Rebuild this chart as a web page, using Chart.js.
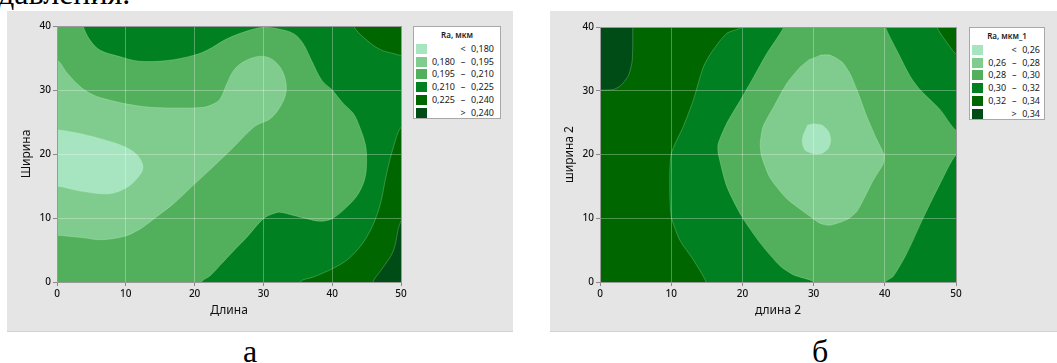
<!DOCTYPE html>
<html>
<head>
<meta charset="utf-8">
<script src="https://cdn.jsdelivr.net/npm/chart.js@4.4.1/dist/chart.umd.min.js"></script>
<style>
  body { margin: 0; width: 1057px; height: 363px; background: #fff; position: relative; overflow: hidden; font-family: "Noto Sans", sans-serif; }
  .serif { position: absolute; font-family: "Liberation Serif", "Times New Roman", serif; font-size: 32px; line-height: 32px; color: #000; white-space: nowrap; }
  .panel { position: absolute; top: 11px; height: 320px; background: #e5e5e5; border-bottom: 1px solid #d2d2d2; }
  .panel canvas { position: absolute; left: 0; top: 0; }
  .legend { position: absolute; background: #fff; border: 1px solid #a8a8a8; box-sizing: border-box; color: #1a1a1a; }
  .legend .title { position: absolute; left: 0; right: 0; top: 3px; text-align: center; font-size: 8px; line-height: 10px; font-weight: 600; }
  .legend .row { position: absolute; left: 2px; height: 10px; }
  .legend .sw { position: absolute; left: 0; top: 0; width: 11px; height: 10px; }
  .legend .txt { position: absolute; right: 0; top: 0; font-size: 9px; line-height: 10px; white-space: pre; }
  .legend .mid { display: inline-block; width: 16px; text-align: center; }
</style>
</head>
<body>
<div class="serif" style="left:-2px; top:-23px;">давления.</div>

<div class="panel" id="panelA" style="left:7px; width:506px;">
  <canvas id="chartA" width="406" height="320"></canvas>
  <div class="legend" id="legendA" style="left:406px; top:15px; width:88px; height:93px;"></div>
</div>

<div class="panel" id="panelB" style="left:550px; width:507px;">
  <canvas id="chartB" width="419" height="320"></canvas>
  <div class="legend" id="legendB" style="left:419px; top:16px; width:76px; height:93px;"></div>
</div>

<div class="serif" style="left:243px; top:335px;">а</div>
<div class="serif" style="left:812px; top:335px;">б</div>

<script>
// contour level breaks, as in the legends
const breaksA = ['0,180', '0,195', '0,210', '0,225', '0,240'];
const breaksB = ['0,26', '0,28', '0,30', '0,32', '0,34'];
const legendTitleA = 'Ra, мкм';
const legendTitleB = 'Ra, мкм_1';
const xTitleA = 'Длина';
const yTitleA = 'Ширина';
const xTitleB = 'длина 2';
const yTitleB = 'ширина 2';
const xMax = 50;
const yMax = 40;

// region outlines [x, y]; points past the edges get clipped
const frame = [[-2, -2], [52, -2], [52, 42], [-2, 42]];

const darkA = [[3.5, 42], [3.8, 40], [4.8, 37.8], [6.3, 36.2], [9.2, 35.2], [11.9, 34.5], [16, 34.6], [19.8, 35.4],
  [21.8, 36.2], [24.7, 38], [27.6, 39.2], [30, 39.8], [31.9, 39.6], [34.4, 38.8], [35.8, 37.2], [37, 34.6],
  [38.5, 31.5], [40, 30], [41.6, 27.9], [43.1, 26.3], [44, 24.2], [44.8, 21.6], [45, 19.5], [44.8, 16.4],
  [43.8, 13.8], [42.1, 11.7], [40, 9.9], [38.2, 9.5], [36.3, 9.9], [34.4, 10.4], [32.4, 10.9], [31.5, 10.7],
  [30, 9.9], [27.6, 7], [25.7, 4.9], [23.7, 2.6], [22.3, 1], [21, 0], [20.5, -2], [52, -2], [52, 42]];
const darkerTopA = [[43, 42], [43.1, 40], [45, 37.8], [47, 36.3], [48.9, 35.7], [50, 35.4], [52, 35.3], [52, 42]];
const darkerBottomA = [[35, -2], [35.3, 0], [37.3, 0.8], [39.7, 1.9], [42.1, 3.4], [43.8, 5.2], [45, 7], [46, 9.1],
  [47, 12.2], [47.9, 16.9], [48.9, 21.1], [50, 24.2], [52, 26], [52, -2]];
const darkestA = [[45.5, -2], [45.9, 0], [47.4, 2.3], [48.9, 4.9], [50, 9.6], [52, 12], [52, -2]];
const lightA = [[-2, 35], [0, 34.7], [1.5, 32.6], [3.4, 30.5], [5.3, 29.2], [7.7, 28.4], [10.2, 27.8], [13.6, 27.3],
  [17.9, 27.2], [21.3, 27.3], [22.7, 27.8], [23.7, 28.6], [24.7, 31], [25.7, 33.1], [27.1, 34.4], [29, 35.2],
  [30.3, 35.2], [31.5, 34.6], [32.7, 33.1], [33.3, 31], [33.2, 29.2], [32.4, 27.3], [31, 25.5], [29, 24.5],
  [27.6, 23.2], [25.7, 21.1], [22.7, 18], [19.8, 15.1], [16.9, 12.2], [14.5, 10.2], [12.1, 8.3], [9.7, 7.1],
  [6.3, 6.6], [3.9, 6.9], [0, 7.3], [-2, 7.3]];
const lightestA = [[-2, 24], [0, 23.8], [2.9, 23.3], [6.3, 22.4], [9.7, 21.2], [11.6, 19.9], [12.4, 18.5], [12.4, 17.4],
  [11.4, 15.9], [10.2, 14.8], [8.2, 13.9], [6.3, 13.8], [3.4, 14.2], [0, 15], [-2, 15]];

const darkestB = [[-2, 30.1], [0, 30.1], [1.9, 30.2], [3, 30.9], [4, 32.4], [4.5, 34.5], [4.6, 36.9], [4.6, 40],
  [4.6, 42], [-2, 42]];
const midB = [[19.9, 42], [19.9, 40], [17.8, 39], [15.7, 36.1], [14.5, 33.7], [13.1, 28.5], [11.7, 24.4], [10, 20.1],
  [9.8, 15], [10, 10.3], [11.2, 6.6], [13.1, 3.5], [14.9, 0], [15, -2], [52, -2], [52, 35.7], [50, 35.8],
  [48.7, 37.6], [47.3, 40], [47.2, 42]];
const mediumB = [[25.8, 42], [25.8, 40], [23.4, 35.8], [21.6, 32.2], [19.7, 28.5], [17.8, 24.9], [16.6, 21.7],
  [16.6, 20.2], [17.8, 15], [19.9, 10.3], [22.5, 6.1], [25.3, 2.5], [27.2, 1.1], [30, 0], [30, -2], [40.1, -2],
  [40.1, 0], [41.2, 0.9], [43.1, 4.5], [45.5, 10.3], [47.8, 15.5], [50, 19.9], [52, 19.9], [52, 23.8], [50, 23.8],
  [47.8, 27], [45, 30.1], [43.6, 32.2], [41.7, 36.3], [40.1, 40], [40.1, 42]];
const lightB = [[30.9, 35.6], [32.3, 35.6], [34, 34.5], [35.1, 32.7], [36.1, 30.1], [37.5, 25.9], [38.9, 22.3],
  [39.9, 19.9], [39.8, 18.6], [38.4, 16], [36.1, 11.1], [34.7, 9.8], [32.3, 8.9], [30.9, 9.2], [29.5, 10.3],
  [26.2, 13.1], [23.9, 16.3], [22.7, 19.7], [22.5, 21.7], [22.9, 24.4], [24.4, 27.5], [26.2, 31.1], [28.1, 33.7],
  [29.5, 35]];
const lightestB = [[29.1, 24.6], [30, 24.8], [31.2, 24.6], [32.1, 23.6], [32.4, 22.3], [32.1, 21], [31.2, 20.2],
  [30, 20.1], [28.8, 20.7], [28.4, 22], [28.6, 23.3]];

// Minitab-like greens, lightest to darkest
const greens = ['#a6e5bf', '#80cc8f', '#52af5b', '#008020', '#006600', '#004c17'];

function regionSet(points, color, tension, order) {
  return {
    data: points.map(p => ({ x: p[0], y: p[1] })),
    showLine: true,
    fill: 'shape',
    backgroundColor: color,
    borderColor: 'rgba(210,255,210,0.35)',
    borderWidth: 0.7,
    pointRadius: 0,
    pointHoverRadius: 0,
    tension: tension,
    order: order
  };
}

function axisOpts(title, max, isX, titlePad, fitSize) {
  return {
    type: 'linear',
    min: 0,
    max: max,
    afterFit: s => { if (isX) s.height = fitSize; else s.width = fitSize; },
    ticks: { stepSize: 10, color: '#111', font: { family: 'Noto Sans', size: 10, weight: '500' }, padding: 2, maxRotation: 0 },
    grid: {
      z: 1,
      color: ctx => (ctx.tick.value === 0 || ctx.tick.value === max) ? '#9a9a9a' : 'rgba(255,255,255,0.3)',
      tickColor: '#8a8a8a',
      tickLength: 4
    },
    border: { z: 1, color: '#9a9a9a' },
    title: { display: true, text: title, color: '#111', font: { family: 'Noto Sans', size: 12 }, padding: titlePad }
  };
}

function makeChart(id, regions, tension, xTitle, yTitle, pad) {
  // regions come bottom layer first; lower order is drawn on top
  const datasets = regions.map((r, i) => regionSet(r[0], r[1], tension, regions.length - i));
  return new Chart(document.getElementById(id), {
    type: 'scatter',
    data: { datasets: datasets },
    options: {
      responsive: false,
      animation: false,
      events: [],
      layout: { padding: pad },
      elements: { line: { capBezierPoints: false } },
      plugins: { legend: { display: false }, tooltip: { enabled: false } },
      scales: {
        x: axisOpts(xTitle, xMax, true, { top: 0, bottom: 13 }, 49),
        y: axisOpts(yTitle, yMax, false, { top: 12, bottom: 0 }, 50)
      }
    }
  });
}

function buildLegend(el, title, breaks, rightPad) {
  let html = '<div class="title">' + title + '</div>';
  const n = breaks.length + 1;
  for (let i = 0; i < n; i++) {
    let txt;
    if (i === 0) txt = '<span class="mid">&lt;</span>' + breaks[0];
    else if (i === n - 1) txt = '<span class="mid">&gt;</span>' + breaks[n - 2];
    else txt = breaks[i - 1] + '<span class="mid">–</span>' + breaks[i];
    const top = 17 + i * 12.7;
    html += '<div class="row" style="top:' + top + 'px; right:' + rightPad + 'px;">' +
      '<div class="sw" style="background:' + greens[i] + '"></div>' +
      '<div class="txt">' + txt + '</div></div>';
  }
  el.innerHTML = html;
}

makeChart('chartA', [
  [frame, greens[2]],
  [darkA, greens[3]],
  [darkerTopA, greens[4]],
  [darkerBottomA, greens[4]],
  [darkestA, greens[5]],
  [lightA, greens[1]],
  [lightestA, greens[0]]
], 0.35, xTitleA, yTitleA, { top: 15, right: 12, left: 0, bottom: 0 });

makeChart('chartB', [
  [frame, greens[4]],
  [darkestB, greens[5]],
  [midB, greens[3]],
  [mediumB, greens[2]],
  [lightB, greens[1]],
  [lightestB, greens[0]]
], 0.22, xTitleB, yTitleB, { top: 16, right: 13, left: 0, bottom: 0 });

buildLegend(document.getElementById('legendA'), legendTitleA, breaksA, 6);
buildLegend(document.getElementById('legendB'), legendTitleB, breaksB, 4);
</script>
</body>
</html>
